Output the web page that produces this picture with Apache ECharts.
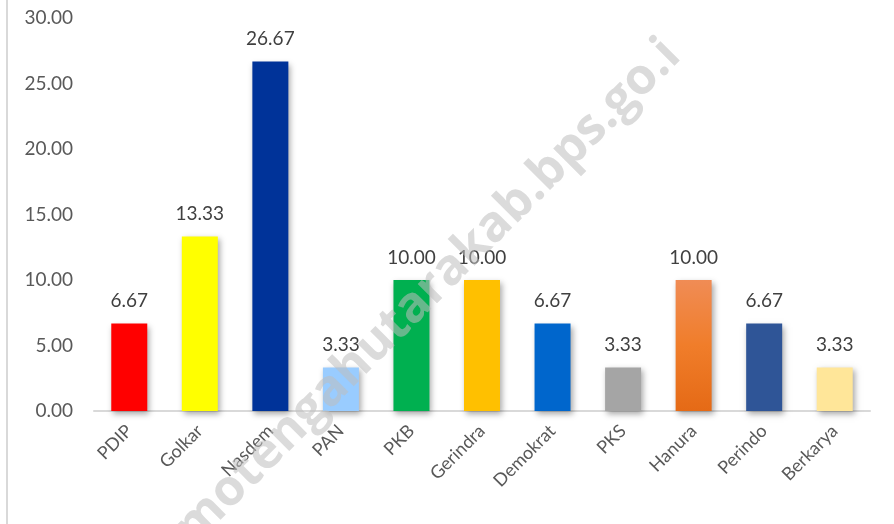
<!DOCTYPE html>
<html><head><meta charset="utf-8">
<script src="https://cdn.jsdelivr.net/npm/echarts@6/dist/echarts.min.js"></script>
<style>html,body{margin:0;padding:0;background:#fff}#c{width:894px;height:524px}</style>
</head><body><div id="c"></div>
<script>
const categories = ['PDIP','Golkar','Nasdem','PAN','PKB','Gerindra','Demokrat','PKS','Hanura','Perindo','Berkarya'];
const values = [6.67,13.33,26.67,3.33,10.00,10.00,6.67,3.33,10.00,6.67,3.33];
const colors = ['#FF0000','#FFFF00','#003399','#99CCFF','#00B050','#FFC000','#0066CC','#A5A5A5','hanura','#2F5597','#FFE699'];
const watermark = 'motengahutarakab.bps.go.i';

const chart = echarts.init(document.getElementById('c'));
const fontFam = 'Lato, "Open Sans", sans-serif';
chart.setOption({
  animation:false,
  grid:{left:94,right:24,top:18,bottom:113},
  xAxis:{type:'category',data:categories,
    axisLine:{lineStyle:{color:'#d9d9d9',width:2}},
    axisTick:{show:false},
    axisLabel:{rotate:45,color:'#595959',fontSize:18,fontFamily:fontFam,margin:17}},
  yAxis:{type:'value',min:0,max:30,interval:5,
    axisLine:{show:false},axisTick:{show:false},splitLine:{show:false},
    axisLabel:{formatter:v=>v.toFixed(2),color:'#595959',fontSize:19,fontFamily:fontFam,margin:21}},
  series:[{type:'bar',barWidth:36,
    data:values.map((v,i)=>({value:v,itemStyle:{color: colors[i]==='hanura'
      ? new echarts.graphic.LinearGradient(0,0,0,1,[{offset:0,color:'#F08C55'},{offset:0.5,color:'#F07D2A'},{offset:1,color:'#E56A16'}])
      : colors[i]}})),
    itemStyle:{shadowColor:'rgba(0,0,0,0.35)',shadowBlur:6,shadowOffsetX:2,shadowOffsetY:3},
    label:{show:true,position:'top',distance:13,formatter:p=>p.value.toFixed(2),color:'#404040',fontSize:19,fontFamily:fontFam}
  }],
  graphic:[
    {type:'line',shape:{x1:7,y1:0,x2:7,y2:524},style:{stroke:'#d9d9d9',lineWidth:2},z:100},
    {type:'text',x:428,y:292,rotation:Math.PI/4,z:100,
      style:{text:watermark,font:'bold 50px "Open Sans", sans-serif',fill:'rgba(190,190,190,0.55)',align:'center',verticalAlign:'middle'}}
  ]
});
</script></body></html>
